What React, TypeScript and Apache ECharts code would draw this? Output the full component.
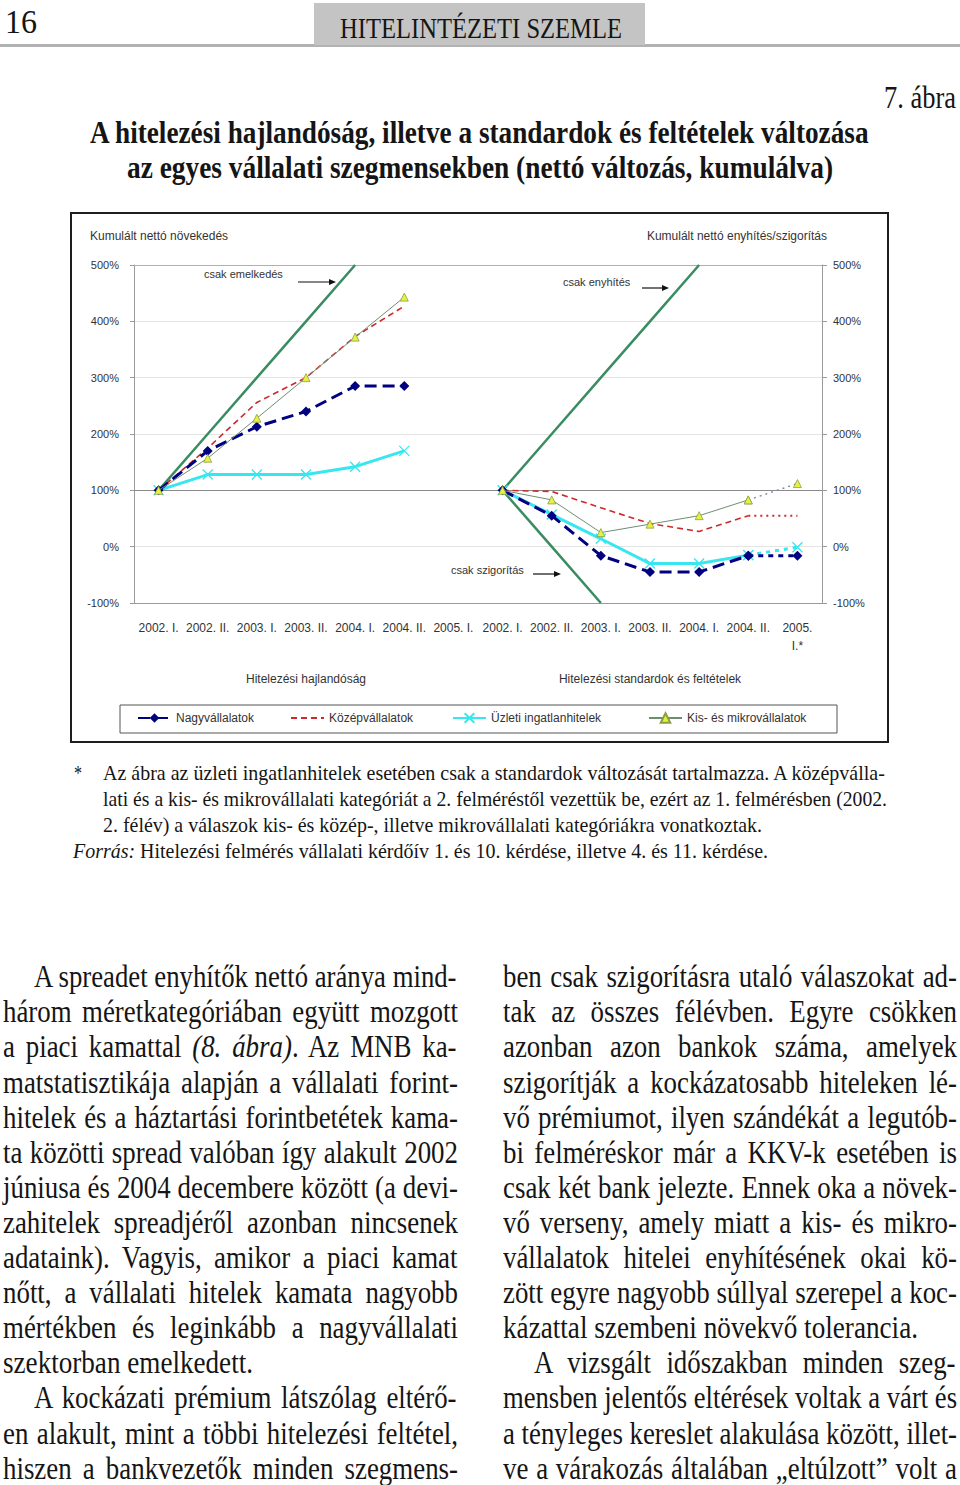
import React, { useEffect, useRef } from 'react';
import * as echarts from 'echarts';

// ---------- data ----------
const periods = ['2002. I.', '2002. II.', '2003. I.', '2003. II.', '2004. I.', '2004. II.', '2005. I.', '2002. I.', '2002. II.', '2003. I.', '2003. II.', '2004. I.', '2004. II.', '2005.\nI.*'];
const groups = ['Hitelezési hajlandóság', 'Hitelezési standardok és feltételek'];
const yMin = -100;
const yMax = 500;
const yStep = 100;

const nagy = [100, 170, 213, 240, 285, 285, null, 100, 55, -16, -45, -45, -16, null];
const nagyProj = [null, null, null, null, null, null, null, null, null, null, null, null, -16, -16];
const kozep = [100, 175, 256, 300, 373, 427, null, 100, 98, 69, 41, 27, 55, null];
const kozepProj = [null, null, null, null, null, null, null, null, null, null, null, null, 55, 55];
const uzleti = [100, 128, 128, 128, 142, 170, null, 100, 57, 14, -30, -30, -15, null];
const uzletiProj = [null, null, null, null, null, null, null, null, null, null, null, null, -15, -1];
const kis = [100, 157, 228, 300, 372, 443, null, 100, 83, 25, 40, 55, 83, null];
const kisProj = [null, null, null, null, null, null, null, null, null, null, null, null, 83, 112];
const onlyRise = [100, 200, 300, 400, 500, null, null, null, null, null, null, null, null, null];
const onlyEase = [null, null, null, null, null, null, null, 100, 200, 300, 400, 500, null, null];
const onlyTight = [null, null, null, null, null, null, null, 100, 0, -100, null, null, null, null];

const seriesNames = ['Nagyvállalatok', 'Középvállalatok', 'Üzleti ingatlanhitelek', 'Kis- és mikrovállalatok'];

// ---------- text fitting ----------
let measureCtx: CanvasRenderingContext2D | null = null;
function mw(t: string, font: string) {
  if (!measureCtx) measureCtx = document.createElement('canvas').getContext('2d');
  measureCtx!.font = font;
  return measureCtx!.measureText(t).width;
}

type Seg = { t: string; it?: boolean };
type LineProps = {
  segs: Seg[]; x: number; base: number; w: number; size: number; bold?: boolean;
  justify?: boolean; k?: number; family?: string; color?: string;
};
function TLine({ segs, x, base, w, size, bold, justify, k = 0.84, family = 'Liberation Serif', color = '#151515' }: LineProps) {
  const fontOf = (s: Seg) => `${s.it ? 'italic ' : ''}${bold ? 'bold ' : ''}${size}px "${family}"`;
  const nat = segs.reduce((a, s) => a + mw(s.t, fontOf(s)), 0);
  const spaces = segs.reduce((a, s) => a + (s.t.match(/ /g) || []).length, 0);
  let sx = w / nat;
  let ws = 0;
  if (justify && sx > k && spaces > 0) {
    sx = k;
    ws = (w / k - nat) / spaces;
  }
  return (
    <div
      style={{
        position: 'absolute', left: x, top: base - 0.8375 * size, whiteSpace: 'pre',
        fontFamily: `"${family}"`, fontSize: size, lineHeight: `${size}px`, fontWeight: bold ? 'bold' : 'normal',
        color, wordSpacing: ws, transform: `scaleX(${sx})`, transformOrigin: 'left top',
      }}
    >
      {segs.map((s, i) => (
        <span key={i} style={{ fontStyle: s.it ? 'italic' : 'normal' }}>{s.t}</span>
      ))}
    </div>
  );
}

const leftCol: { segs: Seg[]; indent?: boolean; last?: number }[] = [
  { segs: [{ t: 'A spreadet enyhítők nettó aránya mind-' }], indent: true },
  { segs: [{ t: 'három méretkategóriában együtt mozgott' }] },
  { segs: [{ t: 'a piaci kamattal ' }, { t: '(8. ábra)', it: true }, { t: '. Az MNB ka-' }] },
  { segs: [{ t: 'matstatisztikája alapján a vállalati forint-' }] },
  { segs: [{ t: 'hitelek és a háztartási forintbetétek kama-' }] },
  { segs: [{ t: 'ta közötti spread valóban így alakult 2002' }] },
  { segs: [{ t: 'júniusa és 2004 decembere között (a devi-' }] },
  { segs: [{ t: 'zahitelek spreadjéről azonban nincsenek' }] },
  { segs: [{ t: 'adataink). Vagyis, amikor a piaci kamat' }] },
  { segs: [{ t: 'nőtt, a vállalati hitelek kamata nagyobb' }] },
  { segs: [{ t: 'mértékben és leginkább a nagyvállalati' }] },
  { segs: [{ t: 'szektorban emelkedett.' }], last: 250 },
  { segs: [{ t: 'A kockázati prémium látszólag eltérő-' }], indent: true },
  { segs: [{ t: 'en alakult, mint a többi hitelezési feltétel,' }] },
  { segs: [{ t: 'hiszen a bankvezetők minden szegmens-' }] },
];
const rightCol: { segs: Seg[]; indent?: boolean; last?: number }[] = [
  { segs: [{ t: 'ben csak szigorításra utaló válaszokat ad-' }] },
  { segs: [{ t: 'tak az összes félévben. Egyre csökken' }] },
  { segs: [{ t: 'azonban azon bankok száma, amelyek' }] },
  { segs: [{ t: 'szigorítják a kockázatosabb hiteleken lé-' }] },
  { segs: [{ t: 'vő prémiumot, ilyen szándékát a legutób-' }] },
  { segs: [{ t: 'bi felméréskor már a KKV-k esetében is' }] },
  { segs: [{ t: 'csak két bank jelezte. Ennek oka a növek-' }] },
  { segs: [{ t: 'vő verseny, amely miatt a kis- és mikro-' }] },
  { segs: [{ t: 'vállalatok hitelei enyhítésének okai kö-' }] },
  { segs: [{ t: 'zött egyre nagyobb súllyal szerepel a koc-' }] },
  { segs: [{ t: 'kázattal szembeni növekvő tolerancia.' }], last: 415 },
  { segs: [{ t: 'A vizsgált időszakban minden szeg-' }], indent: true },
  { segs: [{ t: 'mensben jelentős eltérések voltak a várt és' }] },
  { segs: [{ t: 'a tényleges kereslet alakulása között, illet-' }] },
  { segs: [{ t: 've a várakozás általában „eltúlzott” volt a' }] },
];

// ---------- chart ----------
const CW = 820;
const CH = 532;
const GRID = { left: 64, right: 68, top: 53, bottom: 141 };

function Chart() {
  const ref = useRef<HTMLDivElement>(null);
  useEffect(() => {
    if (!ref.current) return;
    const chart = echarts.init(ref.current, undefined, { renderer: 'svg' });
    const gridH = CH - GRID.top - GRID.bottom;
    const offset100 = (gridH * (100 - yMin)) / (yMax - yMin);
    const txt = { fontFamily: 'Liberation Sans', color: '#333' };
    const navy = '#000080';
    const red = '#cc2a2a';
    const cyan = '#38e6f0';
    const kisLine = '#6e8e72';
    const green = '#3a8c62';
    const cross = 'path://M0 0L10 10M10 0L0 10';

    const refLine = (data: (number | null)[]) => ({
      type: 'line', data, silent: true, symbol: 'none', z: 1,
      lineStyle: { color: green, width: 2.5 },
    });

    const option: any = {
      animation: false,
      backgroundColor: '#ffffff',
      textStyle: { fontFamily: 'Liberation Sans' },
      grid: { ...GRID },
      xAxis: [
        {
          type: 'category', data: periods, position: 'bottom',
          axisLine: { onZero: false, lineStyle: { color: '#9a9a9a' } },
          axisTick: { length: 54, interval: 0, lineStyle: { color: '#bdbdbd' } },
          axisLabel: { interval: 0, margin: 16, fontSize: 12, lineHeight: 18, ...txt },
          splitLine: { show: false },
        },
        {
          type: 'category', data: groups, position: 'bottom',
          axisLine: { show: false, onZero: false },
          axisTick: { length: 87, lineStyle: { color: '#bdbdbd' } },
          axisLabel: { margin: 70, fontSize: 12, ...txt },
        },
        {
          type: 'category', data: periods, position: 'bottom', offset: -offset100,
          axisLine: { onZero: false, lineStyle: { color: '#8a8a8a' } },
          axisTick: { length: 5, interval: 0, lineStyle: { color: '#8a8a8a' } },
          axisLabel: { show: false },
        },
        {
          type: 'category', data: periods, position: 'top',
          axisLine: { onZero: false, lineStyle: { color: '#b0b0b0' } },
          axisTick: { show: false }, axisLabel: { show: false },
        },
      ],
      yAxis: [
        {
          type: 'value', min: yMin, max: yMax, interval: yStep, position: 'left',
          axisLine: { show: true, lineStyle: { color: '#9a9a9a' } },
          axisTick: { show: true, length: 4, lineStyle: { color: '#9a9a9a' } },
          axisLabel: { formatter: '{value}%', fontSize: 11, margin: 15, ...txt },
          splitLine: { lineStyle: { color: '#e4e4e4' } },
        },
        {
          type: 'value', min: yMin, max: yMax, interval: yStep, position: 'right',
          axisLine: { show: true, lineStyle: { color: '#9a9a9a' } },
          axisTick: { show: true, length: 5, lineStyle: { color: '#9a9a9a' } },
          axisLabel: { formatter: '{value}%', fontSize: 11, margin: 11, ...txt },
          splitLine: { show: false },
        },
      ],
      legend: seriesNames.map((n, i) => ({
        data: [n], left: [62, 215, 377, 573][i], top: 495, itemWidth: 33, itemHeight: 12,
        textStyle: { fontSize: 12, ...txt }, selectedMode: false, itemGap: 5,
        ...(i === 1 ? { itemStyle: { opacity: 0 } } : {}),
      })),
      series: [
        refLine(onlyRise),
        refLine(onlyEase),
        refLine(onlyTight),
        {
          name: seriesNames[2], type: 'line', data: uzleti, z: 3,
          symbol: cross, symbolSize: 10,
          lineStyle: { color: cyan, width: 3 },
          itemStyle: { color: cyan, borderColor: cyan, borderWidth: 1.3 },
        },
        {
          name: seriesNames[2], type: 'line', data: uzletiProj, z: 3,
          symbol: cross, symbolSize: 10,
          lineStyle: { color: cyan, width: 3, type: [4, 5] },
          itemStyle: { color: cyan, borderColor: cyan, borderWidth: 1.3 },
        },
        {
          name: seriesNames[1], type: 'line', data: kozep, z: 4, symbol: 'none',
          lineStyle: { color: red, width: 1.6, type: [6, 4] },
          itemStyle: { color: red },
        },
        {
          name: seriesNames[1], type: 'line', data: kozepProj, z: 4, symbol: 'none',
          lineStyle: { color: red, width: 2, type: [2, 4] },
          itemStyle: { color: red },
        },
        {
          name: seriesNames[0], type: 'line', data: nagy, z: 5,
          symbol: 'diamond', symbolSize: 10,
          lineStyle: { color: navy, width: 3, type: [12, 6] },
          itemStyle: { color: navy },
        },
        {
          name: seriesNames[0], type: 'line', data: nagyProj, z: 5,
          symbol: 'diamond', symbolSize: 10,
          lineStyle: { color: navy, width: 3, type: [5, 5] },
          itemStyle: { color: navy },
        },
        {
          name: seriesNames[3], type: 'line', data: kis, z: 6,
          symbol: 'triangle', symbolSize: 8,
          lineStyle: { color: kisLine, width: 1 },
          itemStyle: { color: '#e8f044', borderColor: '#8aa040', borderWidth: 0.8 },
        },
        {
          name: seriesNames[3], type: 'line', data: kisProj, z: 6,
          symbol: 'triangle', symbolSize: 8,
          lineStyle: { color: '#7f8fa8', width: 1.5, type: [2, 4] },
          itemStyle: { color: '#e8f044', borderColor: '#8aa040', borderWidth: 0.8 },
        },
      ],
      graphic: [
        { type: 'rect', shape: { x: 1, y: 1, width: CW - 3, height: CH - 3 }, style: { fill: 'none', stroke: '#1e1e1e', lineWidth: 2 }, z: 0, silent: true },
        { type: 'rect', shape: { x: 50, y: 493, width: 717, height: 28 }, style: { fill: 'none', stroke: '#555', lineWidth: 1 }, z: 0, silent: true },
        { type: 'text', x: 20, y: 24, style: { text: 'Kumulált nettó növekedés', fontSize: 12, fill: '#333', fontFamily: 'Liberation Sans', verticalAlign: 'middle' } },
        { type: 'text', x: 757, y: 24, style: { text: 'Kumulált nettó enyhítés/szigorítás', fontSize: 12, fill: '#333', fontFamily: 'Liberation Sans', align: 'right', verticalAlign: 'middle' } },
        { type: 'text', x: 134, y: 62, style: { text: 'csak emelkedés', fontSize: 11, fill: '#333', fontFamily: 'Liberation Sans', verticalAlign: 'middle' } },
        { type: 'text', x: 493, y: 70, style: { text: 'csak enyhítés', fontSize: 11, fill: '#333', fontFamily: 'Liberation Sans', verticalAlign: 'middle' } },
        { type: 'text', x: 381, y: 358, style: { text: 'csak szigorítás', fontSize: 11, fill: '#333', fontFamily: 'Liberation Sans', verticalAlign: 'middle' } },
        { type: 'line', shape: { x1: 228, y1: 70, x2: 262, y2: 70 }, style: { stroke: '#111', lineWidth: 1.2 } },
        { type: 'polygon', shape: { points: [[266, 70], [259, 67], [259, 73]] }, style: { fill: '#111' } },
        { type: 'line', shape: { x1: 572, y1: 76, x2: 595, y2: 76 }, style: { stroke: '#111', lineWidth: 1.2 } },
        { type: 'polygon', shape: { points: [[599, 76], [592, 73], [592, 79]] }, style: { fill: '#111' } },
        { type: 'line', shape: { x1: 463, y1: 362, x2: 487, y2: 362 }, style: { stroke: '#111', lineWidth: 1.2 } },
        { type: 'polygon', shape: { points: [[491, 362], [484, 359], [484, 365]] }, style: { fill: '#111' } },
      ],
    };
    chart.setOption(option);
    return () => chart.dispose();
  }, []);
  return <div ref={ref} style={{ position: 'absolute', left: 70, top: 212, width: CW, height: CH }} />;
}

export default function App() {
  const bodyBase = 987;
  const pitch = 35.1;
  const bodySize = 32;
  const fnSize = 21;
  return (
    <div style={{ position: 'absolute', left: 0, top: 0, width: 960, height: 1485, background: '#fff', overflow: 'hidden' }}>
      <div style={{ position: 'absolute', left: 0, top: 44, width: 960, height: 3, background: '#b2b2b2' }} />
      <div style={{ position: 'absolute', left: 314, top: 3, width: 331, height: 42, background: '#c4c4c4' }} />
      <TLine segs={[{ t: '16' }]} x={5} base={33} w={32} size={34} />
      <TLine segs={[{ t: 'HITELINTÉZETI SZEMLE' }]} x={340} base={38} w={282} size={29} />
      <TLine segs={[{ t: '7. ábra' }]} x={884} base={108} w={72} size={31} />
      <TLine segs={[{ t: 'A hitelezési hajlandóság, illetve a standardok és feltételek változása' }]} x={90} base={143} w={780} size={31} bold />
      <TLine segs={[{ t: 'az egyes vállalati szegmensekben (nettó változás, kumulálva)' }]} x={127} base={178} w={706} size={31} bold />

      <Chart />

      <TLine segs={[{ t: '*' }]} x={74} base={781} w={8} size={fnSize} />
      <TLine segs={[{ t: 'Az ábra az üzleti ingatlanhitelek esetében csak a standardok változását tartalmazza. A középválla-' }]} x={103} base={781} w={784} size={fnSize} justify k={1.2} />
      <TLine segs={[{ t: 'lati és a kis- és mikrovállalati kategóriát a 2. felméréstől vezettük be, ezért az 1. felmérésben (2002.' }]} x={103} base={807} w={784} size={fnSize} justify k={1.2} />
      <TLine segs={[{ t: '2. félév) a válaszok kis- és közép-, illetve mikrovállalati kategóriákra vonatkoztak.' }]} x={103} base={833} w={659} size={fnSize} />
      <TLine segs={[{ t: 'Forrás:', it: true }, { t: ' Hitelezési felmérés vállalati kérdőív 1. és 10. kérdése, illetve 4. és 11. kérdése.' }]} x={73} base={859} w={695} size={fnSize} />

      {leftCol.map((l, i) => (
        <TLine key={'l' + i} segs={l.segs} x={l.indent ? 34 : 3} base={bodyBase + pitch * i}
          w={l.last ? l.last : l.indent ? 424 : 455} size={bodySize} justify={!l.last} />
      ))}
      {rightCol.map((l, i) => (
        <TLine key={'r' + i} segs={l.segs} x={l.indent ? 534 : 503} base={bodyBase + pitch * i}
          w={l.last ? l.last : l.indent ? 423 : 454} size={bodySize} justify={!l.last} />
      ))}
    </div>
  );
}
